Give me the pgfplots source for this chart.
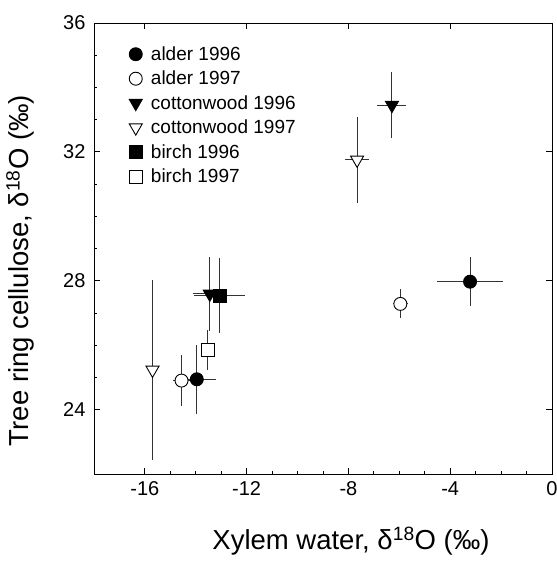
\documentclass[border=0pt]{standalone}
\usepackage{fontspec}
\setmainfont{Liberation Sans}
\usepackage{pgfplots}
\pgfplotsset{compat=1.18}
\begin{document}
\begin{tikzpicture}
\pgfplotsset{
  errstyle/.style={error bars/.cd, x dir=both, x explicit, y dir=both, y explicit,
     error mark=none, error bar style={line width=1pt, black!80, solid}},
}
\begin{axis}[
  at={(0,0)}, anchor=south west,
  scale only axis, width=458pt, height=451pt,
  xmin=-18, xmax=0, ymin=22, ymax=36,
  xtick={-16,-12,-8,-4,0}, ytick={24,28,32,36},
  minor x tick num=3, minor y tick num=3,
  tick pos=left, tick align=inside,
  major tick length=6pt, minor tick length=3pt,
  axis line style={line width=0.9pt},
  every tick/.style={line width=0.8pt, black},
  /pgf/number format/assume math mode=true,
  tick label style={font=\fontsize{20}{22}\selectfont},
  xticklabel style={yshift=-4pt},
  yticklabel style={xshift=-5pt},
  xlabel={Xylem water, δ\textsuperscript{18}O (‰)},
  ylabel={Tree ring cellulose, δ\textsuperscript{18}O (‰)},
  label style={font=\fontsize{27.5}{30}\selectfont},
  xlabel style={yshift=-24pt, xshift=28pt},
  ylabel style={yshift=22pt, xshift=-22pt},
  legend style={draw=none, fill=none, at={(0.07,0.957)}, anchor=north west,
     font=\fontsize{19}{20}\selectfont, row sep=5.2pt,
     legend cell align=left},
  legend image code/.code={\draw plot coordinates {(0pt,0pt)};\path (13pt,0pt);},
]
\addplot[only marks, mark=*, mark size=6.5pt, black, mark options={solid, fill=black, line width=0.9pt}, errstyle]
  table[x=x,y=y,x error=ex,y error=ey] {
x y ex ey
-3.22 27.97 1.30 0.76
-13.96 24.94 0.75 1.08
};
\addlegendentry{alder 1996}
\addplot[only marks, mark=*, mark size=6.5pt, black, mark options={solid, fill=white, line width=0.9pt}, errstyle]
  table[x=x,y=y,x error=ex,y error=ey] {
x y ex ey
-5.96 27.28 0.30 0.45
-14.56 24.90 0.35 0.78
};
\addlegendentry{alder 1997}
\addplot[only marks, mark=triangle*, mark size=7.5pt, black, mark options={solid, fill=black, rotate=180, line width=0.9pt}, errstyle]
  table[x=x,y=y,x error=ex,y error=ey] {
x y ex ey
-6.29 33.45 0.57 1.03
-13.45 27.59 0.65 1.15
};
\addlegendentry{cottonwood 1996}
\addplot[only marks, mark=triangle*, mark size=7.5pt, black, mark options={solid, fill=white, rotate=180, line width=0.9pt}, errstyle]
  table[x=x,y=y,x error=ex,y error=ey] {
x y ex ey
-7.66 31.75 0.46 1.33
-15.70 25.23 0.00 2.80
};
\addlegendentry{cottonwood 1997}
\addplot[only marks, mark=square*, mark size=6.5pt, black, mark options={solid, fill=black, line width=0.9pt}, errstyle]
  table[x=x,y=y,x error=ex,y error=ey] {
x y ex ey
-13.06 27.53 1.00 1.16
};
\addlegendentry{birch 1996}
\addplot[only marks, mark=square*, mark size=6.5pt, black, mark options={solid, fill=white, line width=0.9pt}, errstyle]
  table[x=x,y=y,x error=ex,y error=ey] {
x y ex ey
-13.52 25.85 0.10 0.62
};
\addlegendentry{birch 1997}
\end{axis}
\begin{axis}[
  at={(0,0)}, anchor=south west,
  scale only axis, width=458pt, height=451pt,
  xmin=-18, xmax=0, ymin=22, ymax=36,
  xtick={-16,-12,-8,-4,0}, ytick={24,28,32,36},
  xticklabels={}, yticklabels={},
  tick pos=right, tick align=inside,
  major tick length=6pt,
  axis line style={draw=none},
  every tick/.style={line width=0.8pt, black},
]
\end{axis}
\pgfresetboundingbox
\path[use as bounding box] (-94pt,-89pt) rectangle (463pt,474pt);
\end{tikzpicture}
\end{document}
